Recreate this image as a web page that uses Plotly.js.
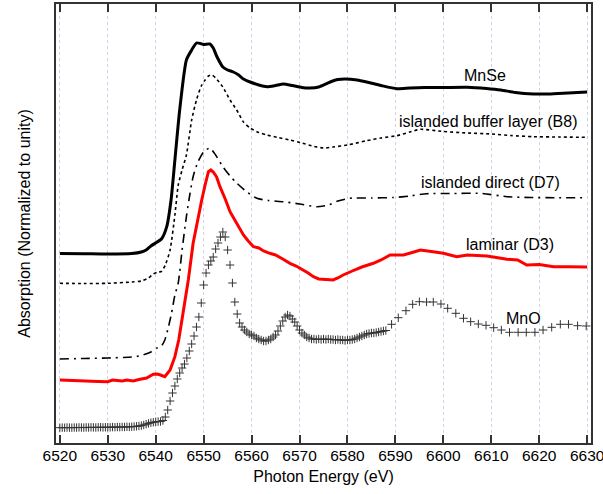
<!DOCTYPE html>
<html>
<head>
<meta charset="utf-8">
<script src="https://cdn.plot.ly/plotly-3.0.1.min.js"></script>
<style>html,body{margin:0;padding:0;background:#fff;}#chart{width:603px;height:494px;}</style>
</head>
<body>
<div id="chart"></div>
<script>
// Series labels
const seriesNames = ["MnSe", "islanded buffer layer (B8)", "islanded direct (D7)", "laminar (D3)", "MnO"];

// MnSe (solid black)
const mnseE = [6520, 6525, 6530, 6535, 6537, 6538, 6539, 6540.2, 6541.2, 6542.3, 6543.2, 6544, 6545, 6546.4, 6547.5, 6548.5, 6549.3, 6550, 6551.3, 6552, 6552.7, 6554, 6555, 6556.2, 6557.3, 6558.3, 6559.7, 6561.5, 6563.2, 6565, 6566.6, 6568.5, 6570.5, 6572.2, 6574, 6576.4, 6578, 6579.5, 6582, 6584, 6587, 6590.3, 6593, 6596, 6600, 6605, 6609, 6612, 6615, 6618.8, 6622, 6626, 6630];
const mnseY = [1.895, 1.893, 1.89, 1.895, 1.91, 1.93, 1.97, 2.007, 2.04, 2.163, 2.43, 2.83, 3.33, 3.83, 3.93, 4.00, 3.995, 3.985, 3.99, 3.95, 3.87, 3.76, 3.73, 3.71, 3.68, 3.64, 3.61, 3.58, 3.563, 3.575, 3.59, 3.575, 3.555, 3.55, 3.56, 3.61, 3.635, 3.64, 3.63, 3.61, 3.575, 3.543, 3.55, 3.555, 3.555, 3.557, 3.545, 3.53, 3.505, 3.49, 3.49, 3.50, 3.51];

// islanded buffer layer (B8) (dotted black)
const b8E = [6520, 6525, 6530, 6535, 6537, 6538.5, 6539.5, 6540.5, 6541.2, 6542, 6543, 6544, 6544.7, 6545.5, 6546.4, 6547.5, 6548.5, 6549.5, 6550.3, 6551, 6551.7, 6552.5, 6554, 6555.5, 6556.9, 6558.3, 6559.7, 6561.5, 6563.2, 6565.5, 6568, 6570.5, 6573, 6575, 6577, 6580, 6584, 6587, 6590.3, 6593, 6595.2, 6600, 6605, 6610, 6614, 6618.8, 6624, 6630];
const b8Y = [1.597, 1.595, 1.597, 1.61, 1.62, 1.65, 1.69, 1.71, 1.715, 1.78, 1.93, 2.28, 2.58, 2.73, 2.88, 3.23, 3.43, 3.57, 3.63, 3.67, 3.68, 3.65, 3.56, 3.43, 3.33, 3.21, 3.15, 3.105, 3.08, 3.055, 3.03, 3.00, 2.965, 2.95, 2.96, 2.98, 3.023, 3.05, 3.073, 3.11, 3.137, 3.115, 3.10, 3.09, 3.075, 3.063, 3.06, 3.057];

// islanded direct (D7) (dash-dot black)
const d7E = [6520, 6525, 6530, 6535, 6537, 6539, 6540.2, 6541.2, 6541.9, 6542.6, 6543.3, 6544, 6544.7, 6545.5, 6546.4, 6547.1, 6547.8, 6548.8, 6550, 6551.3, 6552.5, 6554, 6555.5, 6556.9, 6559, 6561.1, 6563.5, 6566.6, 6570, 6573.6, 6576, 6578, 6580.5, 6585, 6589.6, 6593, 6596.5, 6602, 6607.7, 6613.3, 6618, 6624, 6630];
const d7Y = [0.84, 0.845, 0.85, 0.86, 0.875, 0.91, 0.947, 0.97, 1.03, 1.15, 1.297, 1.48, 1.60, 1.93, 2.263, 2.48, 2.663, 2.81, 2.91, 2.95, 2.88, 2.763, 2.67, 2.60, 2.51, 2.447, 2.425, 2.413, 2.39, 2.363, 2.38, 2.42, 2.447, 2.45, 2.455, 2.47, 2.493, 2.495, 2.497, 2.463, 2.455, 2.453, 2.453];

// laminar (D3) (red)
const d3E = [6520, 6522, 6525, 6528, 6530, 6531, 6532, 6533, 6534, 6535.3, 6536.5, 6538.1, 6539.5, 6540.3, 6541, 6541.9, 6543, 6544, 6544.8, 6545.4, 6546.1, 6546.8, 6547.8, 6548.7, 6549.6, 6550.3, 6551, 6551.5, 6552, 6552.7, 6553.4, 6554.5, 6555.5, 6556.5, 6557.4, 6558.3, 6559.3, 6560.4, 6561.5, 6562.5, 6563.8, 6565, 6566.5, 6568, 6569.3, 6570.5, 6571.8, 6572.9, 6574, 6575.5, 6577, 6578, 6579.1, 6581, 6583, 6585.4, 6587, 6588.9, 6591.7, 6593.5, 6595.2, 6597.5, 6600, 6602.8, 6605, 6609.1, 6611, 6613.3, 6615.5, 6617.4, 6620, 6623, 6626, 6630];
const d3Y = [0.63, 0.625, 0.62, 0.615, 0.613, 0.63, 0.625, 0.62, 0.63, 0.62, 0.635, 0.65, 0.687, 0.69, 0.68, 0.663, 0.73, 0.863, 1.03, 1.197, 1.43, 1.63, 1.997, 2.23, 2.43, 2.58, 2.713, 2.73, 2.71, 2.66, 2.563, 2.44, 2.313, 2.23, 2.15, 2.08, 2.02, 1.963, 1.95, 1.92, 1.897, 1.88, 1.84, 1.797, 1.77, 1.74, 1.70, 1.663, 1.64, 1.635, 1.63, 1.65, 1.68, 1.72, 1.76, 1.797, 1.83, 1.88, 1.88, 1.905, 1.93, 1.915, 1.897, 1.863, 1.88, 1.87, 1.855, 1.837, 1.83, 1.78, 1.785, 1.763, 1.763, 1.76];

// MnO (crosses)
const mnoE = [6520.0, 6520.5, 6521.0, 6521.5, 6522.0, 6522.5, 6523.0, 6523.5, 6524.0, 6524.5, 6525.0, 6525.5, 6526.0, 6526.5, 6527.0, 6527.5, 6528.0, 6528.5, 6529.0, 6529.5, 6530.0, 6530.5, 6531.0, 6531.5, 6532.0, 6532.5, 6533.0, 6533.5, 6534.0, 6534.5, 6535.0, 6535.5, 6536.0, 6536.5, 6537.0, 6537.5, 6538.0, 6538.5, 6539.0, 6539.5, 6540.0, 6540.5, 6541.0, 6541.5, 6542.0, 6542.5, 6543.0, 6543.5, 6544.0, 6544.5, 6545.0, 6545.5, 6546.0, 6546.5, 6547.0, 6547.5, 6548.0, 6548.5, 6549.0, 6549.5, 6550.0, 6550.5, 6551.0, 6551.5, 6552.0, 6552.5, 6553.0, 6553.5, 6554.0, 6554.5, 6555.0, 6555.5, 6556.0, 6556.5, 6557.0, 6557.5, 6558.0, 6558.5, 6559.0, 6559.5, 6560.0, 6560.5, 6561.0, 6561.5, 6562.0, 6562.5, 6563.0, 6563.5, 6564.0, 6564.5, 6565.0, 6565.5, 6566.0, 6566.5, 6567.0, 6567.5, 6568.0, 6568.5, 6569.0, 6569.5, 6570.0, 6570.5, 6571.0, 6571.5, 6572.0, 6572.5, 6573.0, 6573.5, 6574.0, 6574.5, 6575.0, 6575.5, 6576.0, 6576.5, 6577.0, 6577.5, 6578.0, 6578.5, 6579.0, 6579.5, 6580.0, 6580.5, 6581.0, 6581.5, 6582.0, 6582.5, 6583.0, 6583.5, 6584.0, 6584.5, 6585.0, 6585.5, 6586.0, 6586.5, 6587.0, 6587.5, 6588.0,
  6589.2, 6590.6, 6592.2, 6593.6, 6595.0, 6596.5, 6597.9, 6599.5, 6600.9, 6602.6, 6604.2, 6605.7, 6607.3, 6608.9, 6610.5, 6612.1, 6613.8, 6615.6, 6617.3, 6619.1, 6620.8, 6622.6, 6624.4, 6626.1, 6628.0, 6629.8];
const mnoY = [0.153, 0.154, 0.153, 0.155, 0.154, 0.153, 0.155, 0.154, 0.156, 0.155, 0.154, 0.156, 0.155, 0.157, 0.156, 0.155, 0.157, 0.158, 0.156, 0.157, 0.158, 0.157, 0.159, 0.158, 0.160, 0.159, 0.161, 0.160, 0.162, 0.161, 0.163, 0.165, 0.167, 0.170, 0.174, 0.180, 0.188, 0.196, 0.203, 0.207, 0.212, 0.214, 0.215, 0.225, 0.26, 0.33, 0.42, 0.50, 0.57, 0.64, 0.70, 0.75, 0.79, 0.85, 0.92, 0.99, 1.07, 1.16, 1.26, 1.40, 1.58, 1.70, 1.78, 1.82, 1.86, 1.94, 2.00, 2.06, 2.11, 2.06, 1.93, 1.78, 1.60, 1.41, 1.29, 1.20, 1.16, 1.13, 1.11, 1.09, 1.08, 1.07, 1.05, 1.04, 1.03, 1.02, 1.02, 1.03, 1.04, 1.06, 1.08, 1.12, 1.17, 1.22, 1.26, 1.28, 1.27, 1.24, 1.21, 1.17, 1.13, 1.10, 1.08, 1.06, 1.05, 1.04, 1.04, 1.035, 1.04, 1.035, 1.04, 1.035, 1.04, 1.035, 1.035, 1.03, 1.035, 1.03, 1.03, 1.025, 1.03, 1.03, 1.035, 1.04, 1.05, 1.06, 1.07, 1.08, 1.09, 1.095, 1.10, 1.10, 1.105, 1.11, 1.115, 1.12, 1.125,
  1.187, 1.253, 1.323, 1.387, 1.413, 1.41, 1.41, 1.39, 1.347, 1.297, 1.247, 1.213, 1.19, 1.177, 1.153, 1.13, 1.107, 1.107, 1.107, 1.107, 1.13, 1.157, 1.187, 1.187, 1.173, 1.17];

// X axis ticks
const tickVals = [6520, 6530, 6540, 6550, 6560, 6570, 6580, 6590, 6600, 6610, 6620, 6630];
const tickText = ["6520", "6530", "6540", "6550", "6560", "6570", "6580", "6590", "6600", "6610", "6620", "6630"];

const FONT = "Liberation Sans, Arial, sans-serif";

const traces = [
  {x: mnoE, y: mnoY, type: "scatter", mode: "markers", name: seriesNames[4],
   marker: {symbol: "cross-thin", size: 6, line: {width: 1, color: "#333"}, color: "#333"}},
  {x: d7E, y: d7Y, type: "scatter", mode: "lines", name: seriesNames[2],
   line: {color: "#000", width: 1.6, dash: "9px,5px,2px,5px", shape: "spline", smoothing: 0.6}},
  {x: b8E, y: b8Y, type: "scatter", mode: "lines", name: seriesNames[1],
   line: {color: "#000", width: 1.6, dash: "3px,3px", shape: "spline", smoothing: 0.6}},
  {x: d3E, y: d3Y, type: "scatter", mode: "lines", name: seriesNames[3],
   line: {color: "#ff0000", width: 3}},
  {x: mnseE, y: mnseY, type: "scatter", mode: "lines", name: seriesNames[0],
   line: {color: "#000", width: 3, shape: "spline", smoothing: 0.6}}
];

const annFont = {family: FONT, size: 16, color: "#000"};
const layout = {
  width: 603, height: 494,
  margin: {l: 56, r: 12, t: 4, b: 51},
  paper_bgcolor: "#fff", plot_bgcolor: "#fff",
  showlegend: false,
  font: {family: FONT, size: 15.5, color: "#000"},
  xaxis: {
    range: [6519.2, 6630.8],
    tickvals: tickVals, ticktext: tickText,
    ticks: "inside", ticklen: 8, tickwidth: 2, tickcolor: "#333",
    showline: true, linewidth: 2, linecolor: "#333", mirror: "ticks",
    showgrid: true, gridcolor: "#cfcfec", gridwidth: 1, griddash: "dot",
    zeroline: false,
    tickfont: {family: FONT, size: 15.5, color: "#000"},
    ticklabelstandoff: -3,
    ticklabeloverflow: "allow",
    title: {text: "Photon Energy (eV)", font: {family: FONT, size: 16, color: "#000"}, standoff: 8}
  },
  yaxis: {
    range: [0, 4.39],
    showticklabels: false, ticks: "",
    showline: true, linewidth: 2, linecolor: "#333", mirror: true,
    showgrid: false, zeroline: false,
    title: {text: "Absorption (Normalized to unity)", font: {family: FONT, size: 16, color: "#000"}, standoff: 19}
  },
  annotations: [
    {x: 6608.7, y: 3.68, text: seriesNames[0], showarrow: false, font: annFont},
    {x: 6609.4, y: 3.22, text: seriesNames[1], showarrow: false, font: annFont},
    {x: 6609.8, y: 2.61, text: seriesNames[2], showarrow: false, font: annFont},
    {x: 6613.9, y: 1.99, text: seriesNames[3], showarrow: false, font: annFont},
    {x: 6616.7, y: 1.25, text: seriesNames[4], showarrow: false, font: annFont}
  ]
};

Plotly.newPlot("chart", traces, layout, {staticPlot: true, displayModeBar: false});
</script>
</body>
</html>
